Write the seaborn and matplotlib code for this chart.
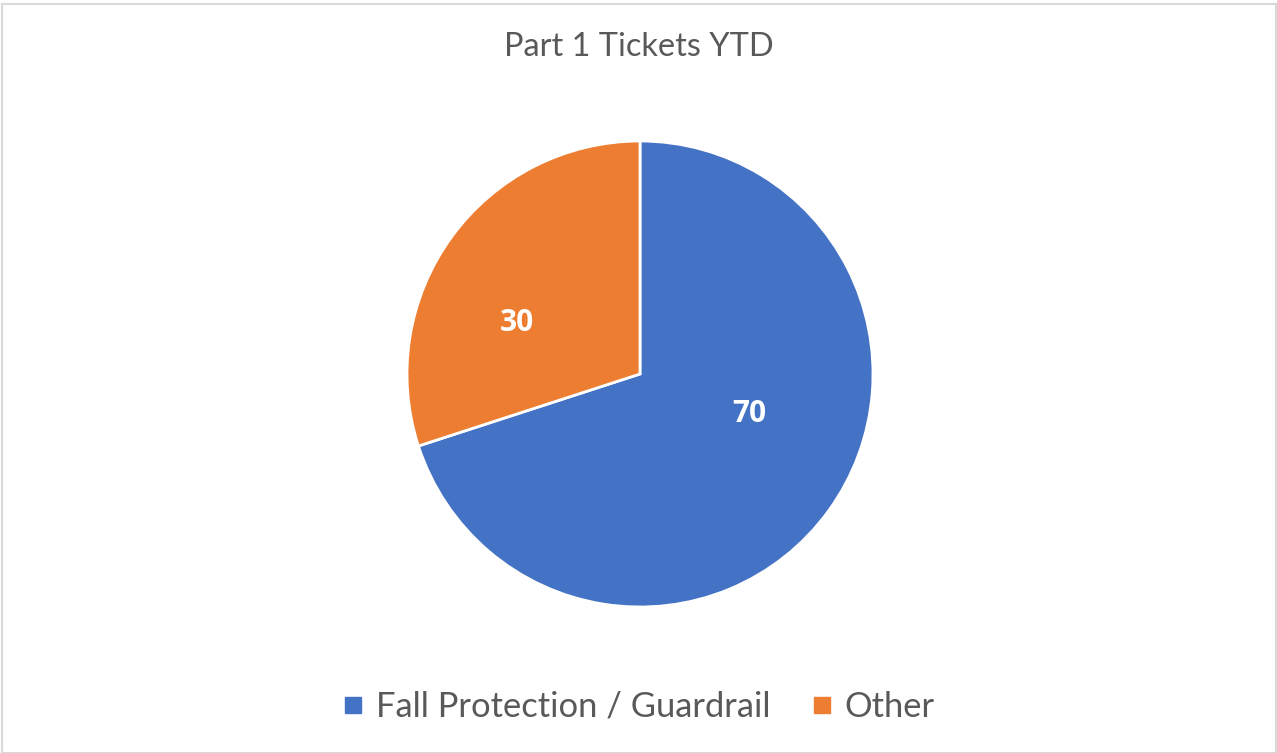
import matplotlib.pyplot as plt
import seaborn as sns
from matplotlib.lines import Line2D
from matplotlib.patches import Rectangle

# Data
categories = ["Fall Protection / Guardrail", "Other"]
values = [70, 30]
colors = ["#4472C4", "#ED7D31"]
title = "Part 1 Tickets YTD"

sns.set_theme(style="white")
plt.rcParams["font.family"] = ["Lato", "DejaVu Sans"]

W, H = 1277, 753
fig = plt.figure(figsize=(W / 100, H / 100), dpi=100)
fig.patch.set_facecolor("white")

# pie axes: centre (640, 374), radius 233 px
cx, cy, r = 640, 374, 233
ax = fig.add_axes([(cx - r) / W, (H - cy - r) / H, 2 * r / W, 2 * r / H])

palette = sns.color_palette(colors)
wedges, texts, autotexts = ax.pie(
    values,
    colors=palette,
    startangle=90,
    counterclock=False,
    autopct=lambda p: f"{p * sum(values) / 100:.0f}",
    pctdistance=0.5,
    wedgeprops=dict(edgecolor="white", linewidth=2),
    textprops=dict(color="white", fontsize=21.5, fontweight="bold",
                   family=["Open Sans", "DejaVu Sans"]),
    radius=1.0,
)
# label placement similar to Excel
label_pos = [(0.47, -0.17), (-0.53, 0.22)]
for t, pos in zip(autotexts, label_pos):
    t.set_position(pos)
ax.set_xlim(-1, 1)
ax.set_ylim(-1, 1)
ax.set_aspect("equal")
ax.axis("off")

fig.text(0.5, 1 - 47 / H, title, ha="center", va="center",
         fontsize=23.4, color="#595959")

handles = [Line2D([0], [0], marker="s", linestyle="", markersize=11,
                  markerfacecolor=c, markeredgecolor=c) for c in colors]
fig.legend(handles, categories, loc="center", bbox_to_anchor=(0.5, 1 - 707 / H),
           ncol=2, frameon=False, fontsize=24.8, labelcolor="#595959",
           handletextpad=0.35, columnspacing=1.2, handlelength=0.6)

# light border around the chart area
fig.add_artist(Rectangle((1.5 / W, 0), 1 - 3 / W, 1 - 3.5 / H, transform=fig.transFigure,
                         fill=False, edgecolor="#D9D9D9", linewidth=1.5))

fig.savefig("out.png", dpi=100)
